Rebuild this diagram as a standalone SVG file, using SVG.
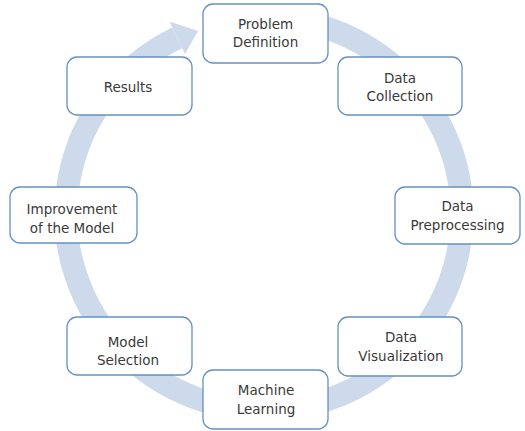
<svg xmlns="http://www.w3.org/2000/svg" width="525" height="431" viewBox="0 0 525 431">
<style>
.box{fill:#ffffff;stroke:#6690c2;stroke-width:1.3}
.t{font-family:"DejaVu Sans",sans-serif;font-size:13.5px;fill:#3a3a3a;text-anchor:middle}
.ring{fill:none;stroke:#cddaeb;stroke-width:23}
.head{fill:#cddaeb}
</style>
<rect width="525" height="431" fill="#ffffff"/>
<g id="connectors">
<path class="ring" d="M298.4,21.0 A198,196 0 1 1 177.2,37.8"/>
<polygon class="head" points="169.4,21.6 198,31 185.0,54.0"/>
</g>
<g id="problem-definition">
<rect class="box" x="203" y="4" width="125" height="59" rx="10"/>
<text class="t" x="265.5" y="28.5">Problem</text>
<text class="t" x="265.5" y="47">Definition</text>
</g>
<g id="data-collection">
<rect class="box" x="338" y="57" width="124" height="58" rx="10"/>
<text class="t" x="400" y="82.5">Data</text>
<text class="t" x="400" y="101">Collection</text>
</g>
<g id="data-preprocessing">
<rect class="box" x="395" y="187" width="125" height="57" rx="10"/>
<text class="t" x="457.5" y="211">Data</text>
<text class="t" x="457.5" y="229.5">Preprocessing</text>
</g>
<g id="data-visualization">
<rect class="box" x="338" y="317" width="124" height="59" rx="10"/>
<text class="t" x="401" y="342">Data</text>
<text class="t" x="401" y="360.5">Visualization</text>
</g>
<g id="machine-learning">
<rect class="box" x="203" y="370" width="125" height="59" rx="10"/>
<text class="t" x="266" y="395">Machine</text>
<text class="t" x="266" y="413.5">Learning</text>
</g>
<g id="model-selection">
<rect class="box" x="67" y="317" width="125" height="58" rx="10"/>
<text class="t" x="128" y="346.5">Model</text>
<text class="t" x="128" y="365">Selection</text>
</g>
<g id="improvement-of-the-model">
<rect class="box" x="10" y="187" width="127" height="56" rx="10"/>
<text class="t" x="72" y="213.5">Improvement</text>
<text class="t" x="72" y="232.5">of the Model</text>
</g>
<g id="results">
<rect class="box" x="67" y="57" width="125" height="58" rx="10"/>
<text class="t" x="128" y="91.5">Results</text>
</g>
</svg>
